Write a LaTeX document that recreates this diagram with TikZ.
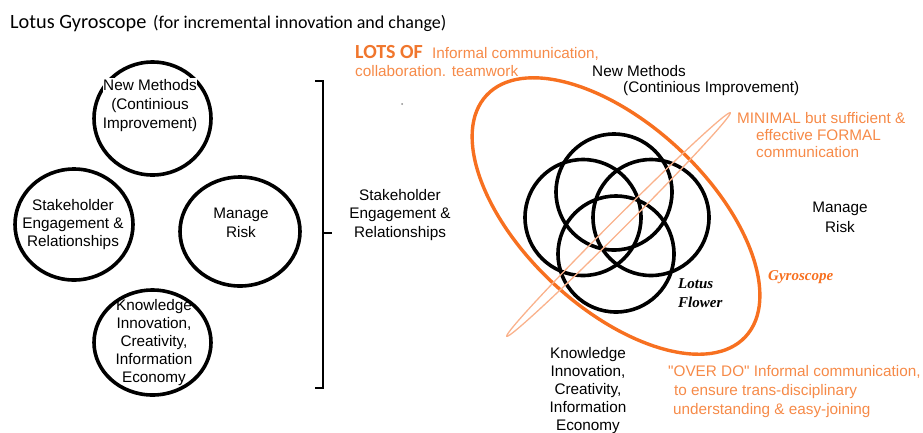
\documentclass[tikz,border=0pt]{standalone}
\usepackage{fontspec}
\usetikzlibrary{shapes.geometric}
\setmainfont{Liberation Sans}[Ligatures=TeXOff]
\newfontfamily\calfont{Carlito}
\newfontfamily\flourish{Liberation Serif}
\definecolor{gyro}{RGB}{247,112,32}
\definecolor{note}{RGB}{246,138,72}
\definecolor{orbit}{RGB}{250,178,140}
\definecolor{lots}{RGB}{240,118,45}
\begin{document}
\begin{tikzpicture}[x=1pt,y=-1pt,
  ring/.style={ellipse, draw=black, line width=3.6pt, inner sep=0pt},
  petal/.style={circle, draw=black, line width=3.6pt, inner sep=0pt, minimum size=116pt},
  lbl/.style={inner sep=0pt, align=center, anchor=base},
  body/.style={font=\fontsize{15.3}{#1}\selectfont},
  body/.default=18.3,
  remark/.style={inner sep=0pt, anchor=base west, text=note, align=left},
  hand/.style={inner sep=0pt, anchor=base west, align=left,
    font=\flourish\bfseries\itshape\fontsize{15}{19}\selectfont}]
\useasboundingbox (0,0) rectangle (923,432);

% title (multi-line nodes below sit on the baseline of their last line)
\node[inner sep=0pt, anchor=base west, font=\calfont\fontsize{20.3}{24}\selectfont] (title) at (10,28) {Lotus Gyroscope};
\node[inner sep=0pt, anchor=base west, font=\calfont\fontsize{18}{22}\selectfont] (subtitle) at (153,28) {(for incremental innovation and change)};

% the four rings on the left
\node[ring, minimum width=117pt, minimum height=113pt] (ringN) at (152.5,118.5) {};
\node[ring, minimum width=118pt, minimum height=111pt] (ringW) at (74,224.5) {};
\node[ring, minimum width=120pt, minimum height=109pt] (ringE) at (240,231.5) {};
\node[ring, minimum width=117pt, minimum height=105pt] (ringS) at (152.5,342.5) {};

\node[lbl, body=19, fill=white, inner ysep=1pt] (labN) at (150,128) {New Methods\\(Continious\\Improvement)};
\node[lbl, body=18] (labW) at (73,246) {Stakeholder\\Engagement \&\\Relationships};
\node[lbl, body=19] (labE) at (241,237) {Manage\\Risk};
\node[lbl, body=18] (labS) at (154,382) {Knowledge\\Innovation,\\Creativity,\\Information\\Economy};

% bracket
\coordinate (brTop) at (315,81);
\coordinate (brBot) at (315,388);
\coordinate (brMid) at (332,233);
\draw[line width=2.2pt] (brTop) -- (323,81) -- (323,388) -- (brBot);
\draw[line width=2.2pt] (323,233) -- (brMid);

\fill[black!45] (402,104) circle (1pt);

% right-hand labels
\node[lbl, body=18.5] (stake) at (400,237) {Stakeholder\\Engagement \&\\Relationships};
\node[inner sep=0pt, anchor=base west, body] (methods) at (592,76) {New Methods};
\node[inner sep=0pt, anchor=base west, body] (improve) at (623,92) {(Continious Improvement)};
\node[lbl, body=20] (risk) at (840,232) {Manage\\Risk};
\node[lbl, body=18] (know) at (588,430) {Knowledge\\Innovation,\\Creativity,\\Information\\Economy};

% lotus flower
\node[petal] (petalN) at (614,192) {};
\node[petal] (petalW) at (583,217.5) {};
\node[petal] (petalE) at (651,217.5) {};
\node[petal] (petalS) at (616,254) {};
\node[hand] (lotus) at (678,307) {Lotus\\Flower};

% gyroscope rings
\coordinate (gyroC) at (616,216);
\coordinate (orbitC) at (618.5,224.5);
\draw[gyro, line width=3.4pt, rotate around={-43:(gyroC)}] (gyroC) ellipse [x radius=177, y radius=92];
\draw[orbit, line width=1.3pt, rotate around={45:(orbitC)}] (orbitC) ellipse [x radius=158, y radius=6];
\node[hand, text=gyro] (gyrolabel) at (768,280) {Gyroscope};

% communication notes
\node[inner sep=0pt, anchor=base west, text=lots, font=\calfont\bfseries\fontsize{20}{24}\selectfont] (lotsof) at (355,58) {LOTS OF};
\node[remark, body] (informal) at (432,58) {Informal communication,};
\node[remark, body] (collab) at (355,76) {collaboration. teamwork};
\node[remark, body=17] (formal) at (737,157) {MINIMAL but sufficient \&\\\hspace*{19pt}effective FORMAL\\\hspace*{19pt}communication};
\node[remark, body=18.7] (overdo) at (668,414) {"OVER DO" Informal communication,\\\hspace*{6pt}to ensure trans-disciplinary\\\hspace*{5pt}understanding \& easy-joining};
\end{tikzpicture}
\end{document}
